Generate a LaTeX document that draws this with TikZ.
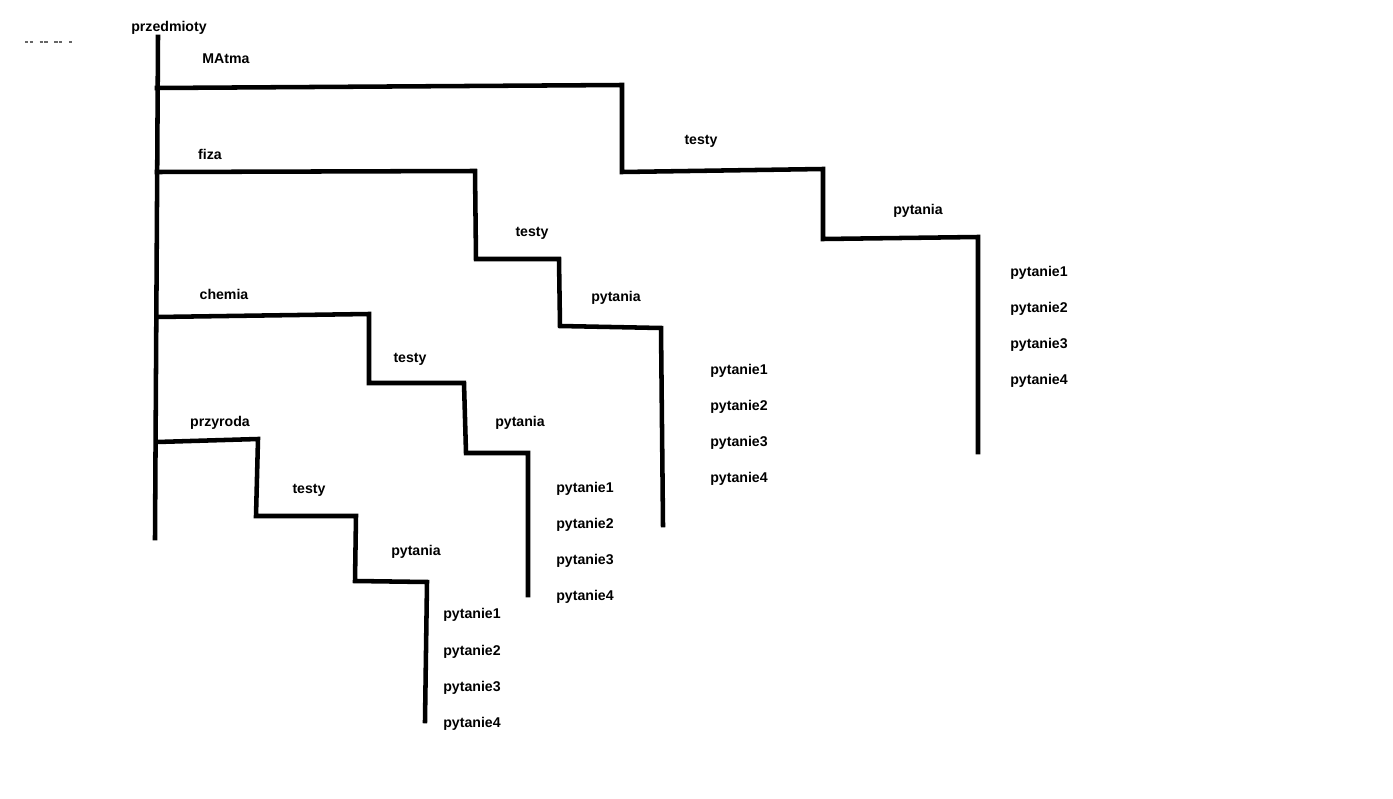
\documentclass[tikz,border=0pt]{standalone}
\usepackage{fontspec}
\setmainfont{Liberation Sans}
\begin{document}
\begin{tikzpicture}[
    x=0.75pt, y=-0.75pt,
    lbl/.style={font=\fontsize{10.6}{12}\selectfont\bfseries, inner sep=0pt},
    branch/.style={line width=3.4pt, line cap=rect, line join=miter},
    faint/.style={line width=0.8pt, dash pattern=on 2.5pt off 1pt on 2.5pt off 5pt, black!60}
]
\useasboundingbox (0,0) rectangle (1393,799);

% Pień
\coordinate (top) at (158,37);
\coordinate (bot) at (155,538);
\node[lbl] (przedmioty) at (169,28) {przedmioty};
\draw[branch] (top) -- (bot);
\coordinate (f1) at (25,42);
\coordinate (f2) at (72,42);
\draw[faint] (f1) -- (f2);

% MAtma
\coordinate (m0) at (157,88);
\coordinate (m1) at (622,85);
\coordinate (m2) at (622,172);
\coordinate (m3) at (823,169);
\coordinate (m4) at (823,239);
\coordinate (m5) at (978,237);
\coordinate (m6) at (978,452);
\draw[branch] (m0) -- (m1) -- (m2) -- (m3) -- (m4) -- (m5) -- (m6);
\node[lbl] (matma) at (226,59) {MAtma};
\node[lbl] (mtesty) at (701,141) {testy};
\node[lbl] (mpyt) at (918,211) {pytania};
\node[lbl] (mp1) at (1039,273) {pytanie1};
\node[lbl] (mp2) at (1039,309) {pytanie2};
\node[lbl] (mp3) at (1039,345) {pytanie3};
\node[lbl] (mp4) at (1039,381) {pytanie4};

% fiza
\coordinate (f0) at (157,172);
\coordinate (fa) at (475,171);
\coordinate (fb) at (476,259);
\coordinate (fc) at (559,259);
\coordinate (fd) at (560,326);
\coordinate (fe) at (661,328);
\coordinate (ff) at (663,525);
\draw[branch] (f0) -- (fa) -- (fb) -- (fc) -- (fd) -- (fe) -- (ff);
\node[lbl] (fiza) at (210,154) {fiza};
\node[lbl] (ftesty) at (532,233) {testy};
\node[lbl] (fpyt) at (616,298) {pytania};
\node[lbl] (fp1) at (739,371) {pytanie1};
\node[lbl] (fp2) at (739,407) {pytanie2};
\node[lbl] (fp3) at (739,443) {pytanie3};
\node[lbl] (fp4) at (739,479) {pytanie4};

% chemia
\coordinate (c0) at (157,317);
\coordinate (c1) at (369,314);
\coordinate (c2) at (369,383);
\coordinate (c3) at (464,383);
\coordinate (c4) at (466,453);
\coordinate (c5) at (528,453);
\coordinate (c6) at (528,595);
\draw[branch] (c0) -- (c1) -- (c2) -- (c3) -- (c4) -- (c5) -- (c6);
\node[lbl] (chemia) at (224,294) {chemia};
\node[lbl] (ctesty) at (410,359) {testy};
\node[lbl] (cpyt) at (520,423) {pytania};
\node[lbl] (cp1) at (585,489) {pytanie1};
\node[lbl] (cp2) at (585,525) {pytanie2};
\node[lbl] (cp3) at (585,561) {pytanie3};
\node[lbl] (cp4) at (585,597) {pytanie4};

% przyroda
\coordinate (p0) at (157,442);
\coordinate (p1) at (258,439);
\coordinate (p2) at (256,516);
\coordinate (p3) at (356,516);
\coordinate (p4) at (355,581);
\coordinate (p5) at (427,582);
\coordinate (p6) at (425,721);
\draw[branch] (p0) -- (p1) -- (p2) -- (p3) -- (p4) -- (p5) -- (p6);
\node[lbl] (przyroda) at (220,423) {przyroda};
\node[lbl] (ptesty) at (309,490) {testy};
\node[lbl] (ppyt) at (416,552) {pytania};
\node[lbl] (pp1) at (472,615) {pytanie1};
\node[lbl] (pp2) at (472,652) {pytanie2};
\node[lbl] (pp3) at (472,688) {pytanie3};
\node[lbl] (pp4) at (472,724) {pytanie4};

\end{tikzpicture}
\end{document}
